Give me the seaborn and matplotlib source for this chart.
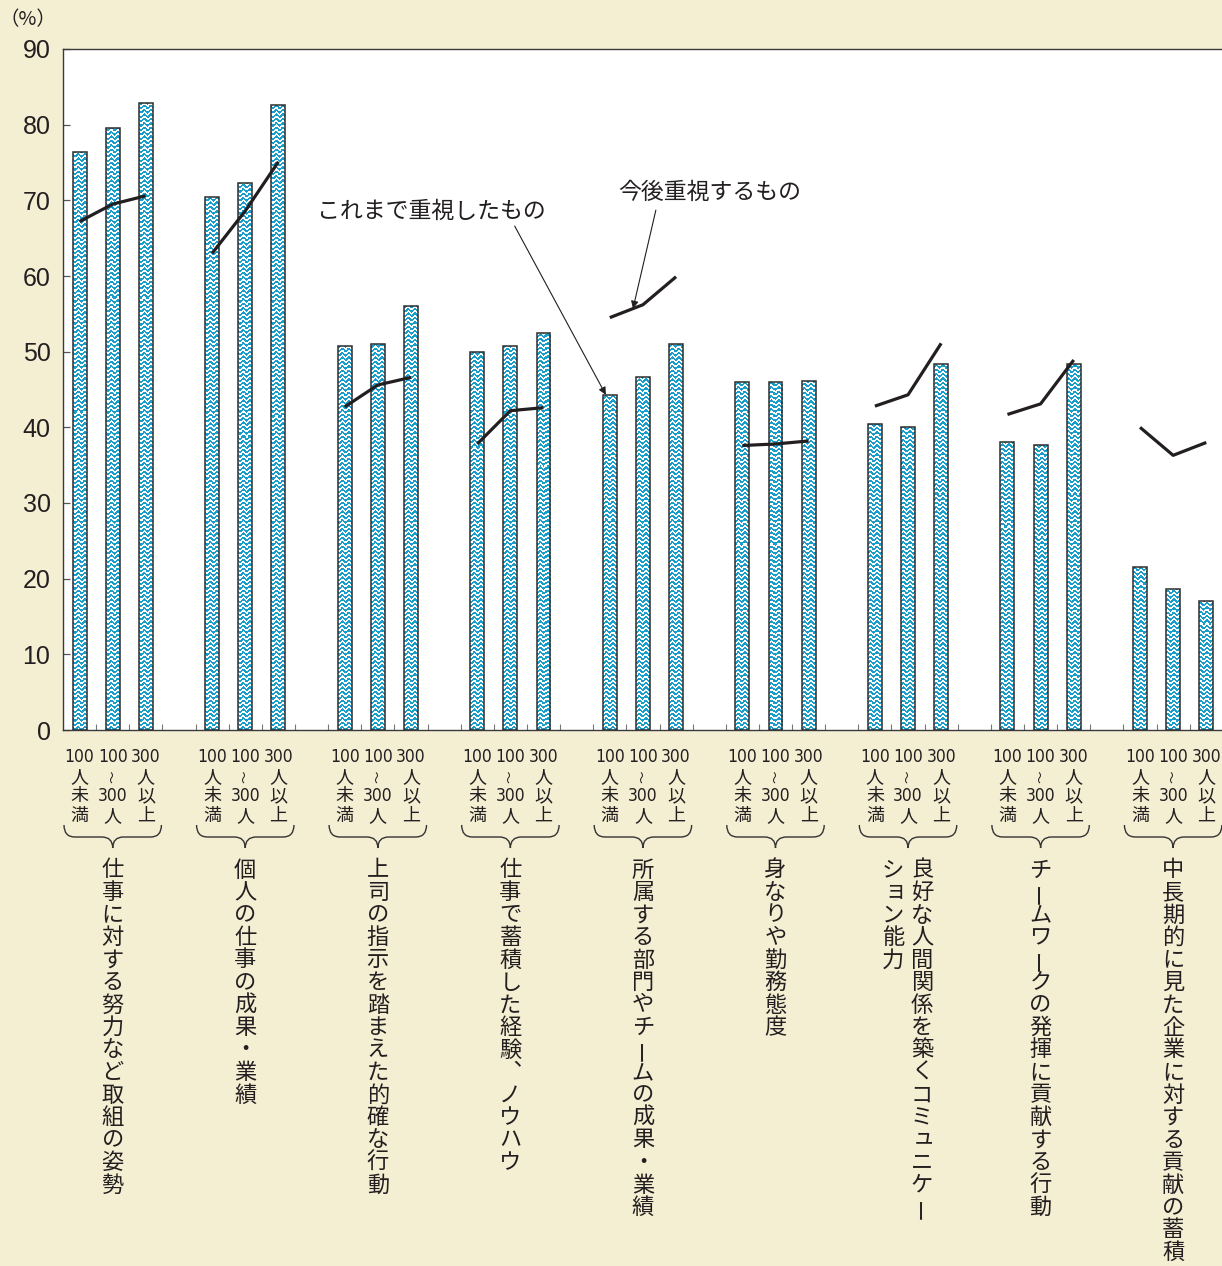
import numpy as np
import pandas as pd
import matplotlib
matplotlib.use("Agg")
import matplotlib.pyplot as plt
import matplotlib.transforms as mtransforms
from matplotlib.path import Path
from matplotlib.patches import PathPatch
from matplotlib import font_manager as fm
from matplotlib.ft2font import FT2Font
import seaborn as sns

# ---- data -------------------------------------------------------------
groups = [
    "仕事に対する努力など取組の姿勢",
    "個人の仕事の成果・業績",
    "上司の指示を踏まえた的確な行動",
    "仕事で蓄積した経験、ノウハウ",
    "所属する部門やチームの成果・業績",
    "身なりや勤務態度",
    "良好な人間関係を築くコミュニケーション能力",
    "チームワークの発揮に貢献する行動",
    "中長期的に見た企業に対する貢献の蓄積",
]
size_labels = [["100", "人", "未", "満"],
               ["100", "〜", "300", "人"],
               ["300", "人", "以", "上"]]

# これまで重視したもの (bars), by firm size
past_lt100 = [76.4, 70.5, 50.7, 50.0, 44.3, 46.0, 40.4, 38.1, 21.6]
past_100_300 = [79.6, 72.3, 51.0, 50.7, 46.6, 46.0, 40.1, 37.7, 18.6]
past_300up = [82.9, 82.6, 56.0, 52.5, 51.0, 46.1, 48.4, 48.4, 17.1]

# 今後重視するもの (lines), by firm size
future_lt100 = [67.2, 63.0, 42.7, 37.8, 54.5, 37.6, 42.8, 41.7, 40.0]
future_100_300 = [69.5, 68.6, 45.6, 42.2, 56.2, 37.8, 44.3, 43.1, 36.3]
future_300up = [70.6, 75.1, 46.6, 42.6, 59.9, 38.2, 51.1, 48.9, 38.0]

label_past = "これまで重視したもの"
label_future = "今後重視するもの"

# ---- tidy tables ---------------------------------------------------------
rows_p, rows_f = [], []
for g in range(len(groups)):
    for j, (p, f) in enumerate(zip((past_lt100, past_100_300, past_300up),
                                   (future_lt100, future_100_300, future_300up))):
        slot = 4 * g + j
        rows_p.append(dict(slot=slot, value=p[g], group=g))
        rows_f.append(dict(slot=slot, value=f[g], group=g))
df_past = pd.DataFrame(rows_p)
df_future = pd.DataFrame(rows_f)

# ---- style ---------------------------------------------------------------
BG = "#F4EED3"
TXT = "#231F20"
EDGE = "#2E2E2E"
CYAN = np.array([0.10, 0.62, 0.80])
JP = ["Noto Sans CJK JP", "DejaVu Sans"]
NUM = ["Liberation Sans", "DejaVu Sans"]


def narrow_digits_font():
    """Pick a condensed face for the small size labels if one is installed."""
    for fam in ("Liberation Sans Narrow", "DejaVu Sans"):
        try:
            path = fm.findfont(fm.FontProperties(family=fam, stretch="condensed"),
                               fallback_to_default=False)
        except Exception:
            continue
        if "Narrow" in path or "Condensed" in path:
            return fm.FontProperties(fname=path), 12.5
    return fm.FontProperties(family="Liberation Sans"), 10


def has_glyph(family, ch):
    try:
        path = fm.findfont(fm.FontProperties(family=family),
                           fallback_to_default=False)
        return ord(ch) in FT2Font(path).get_charmap()
    except Exception:
        return False


NARROW_PROP, NARROW_SIZE = narrow_digits_font()
# vertical-writing comma sits in the upper right of its cell by design
VCOMMA = "︑" if has_glyph("Noto Sans CJK JP", "︑") else None

sns.set_theme(style="white")
plt.rcParams["font.family"] = JP
plt.rcParams["text.color"] = TXT

W, H = 1222, 1266
fig = plt.figure(figsize=(W / 100, H / 100), dpi=100, facecolor=BG)
ax = fig.add_axes([63 / W, (H - 730) / H, 1193 / W, 681 / H])
ax.set_facecolor("white")

sns.barplot(data=df_past, x="slot", y="value", native_scale=True, width=0.42,
            color="white", edgecolor=EDGE, linewidth=1.1, errorbar=None, ax=ax)
bars = list(ax.patches)

sns.lineplot(data=df_future, x="slot", y="value", units="group", estimator=None,
             color=TXT, lw=2.3, legend=False, ax=ax, zorder=4,
             solid_capstyle="butt")

XMIN, XMAX, YMIN, YMAX = -0.5, 35.5, 0, 90

# wavy fill texture for the bars
th, tw = 681, 1193
yy, xx = np.mgrid[0:th, 0:tw]
wave = ((yy + 1.2 * np.sin(2 * np.pi * xx / 6.6)) % 4.4) < 2.3
tex = np.ones((th, tw, 3))
tex[wave] = CYAN
for b in bars:
    b.set_facecolor("none")
    b.set_zorder(3)
    im = ax.imshow(tex, extent=(XMIN, XMAX, YMIN, YMAX), origin="upper",
                   interpolation="nearest", aspect="auto", zorder=2)
    im.set_clip_path(b)

ax.set_xlim(XMIN, XMAX)
ax.set_ylim(YMIN, YMAX)
ax.set_xlabel("")
ax.set_ylabel("")
ax.set_yticks(range(0, 91, 10))
ax.set_xticks(np.arange(0.5, 35.0, 1.0))
ax.set_xticklabels([])
ax.tick_params(axis="y", direction="in", length=5, width=0.9, color="#555",
               labelsize=18, pad=9, labelcolor=TXT, left=True)
ax.tick_params(axis="x", direction="in", length=4.5, width=0.8, color="#777",
               bottom=True)
for lbl in ax.get_yticklabels():
    lbl.set_fontfamily(NUM)
for s in ("left", "top", "bottom"):
    ax.spines[s].set_color("#3A3A3A")
    ax.spines[s].set_linewidth(1.0)
ax.spines["right"].set_visible(False)

fig.text(28 / W, 1 - 20 / H, "（%）", ha="center", va="center",
         fontsize=14, family=JP, color=TXT)


def px_of_slot(s):
    return ax.transData.transform((s, 0))[0]


def put(xpx, ypx, s, size, family=None, rot=0, prop=None):
    kw = dict(fontproperties=prop) if prop is not None else dict(family=family)
    t = fig.text(xpx / W, 1 - ypx / H, s, ha="center", va="center",
                 rotation=rot, color=TXT, **kw)
    t.set_fontsize(size)
    return t


def vertical(xpx, ypx0, text, pitch, size):
    for i, ch in enumerate(text):
        y = ypx0 + i * pitch
        ox, oy, rot = 0, 0, 0
        if ch == "ー":
            rot = 90
        elif ch == "、":
            if VCOMMA:
                ch = VCOMMA
            else:
                ox, oy = 10, -2
        elif ch in "ョュャッ":
            ox, oy = 2, -2
        put(xpx + ox, y + oy, ch, size, JP, rot)


# firm-size labels under each bar
sub_y = [757, 777, 796, 816]
for g in range(len(groups)):
    for j in range(3):
        xpx = px_of_slot(4 * g + j)
        for tok, y in zip(size_labels[j], sub_y):
            if tok.isdigit():
                put(xpx, y, tok, NARROW_SIZE, prop=NARROW_PROP)
            elif tok == "〜":
                put(xpx, y, tok, 9, JP, rot=90)
            else:
                put(xpx, y, tok, 13, JP)

# braces
blend = mtransforms.blended_transform_factory(ax.transData, fig.transFigure)
yt, ym, yb = 1 - 825 / H, 1 - 837 / H, 1 - 848 / H
for g in range(len(groups)):
    l, m, r = 4 * g - 0.47, 4 * g + 1, 4 * g + 2 + 0.47
    d = 0.33
    verts = [(l, yt), (l, ym), (l + d, ym), (m - d, ym), (m, ym), (m, yb),
             (m, ym), (m + d, ym), (r - d, ym), (r, ym), (r, yt)]
    codes = [Path.MOVETO, Path.CURVE3, Path.CURVE3, Path.LINETO,
             Path.CURVE3, Path.CURVE3, Path.CURVE3, Path.CURVE3,
             Path.LINETO, Path.CURVE3, Path.CURVE3]
    fig.patches.append(PathPatch(Path(verts, codes), transform=blend,
                                 fill=False, ec="#333", lw=1.0,
                                 figure=fig))

# category names, written vertically
for g, name in enumerate(groups):
    xc = px_of_slot(4 * g + 1)
    if g == 6:
        vertical(xc + 14, 870, "良好な人間関係を築くコミュニケー", 22.5, 16)
        vertical(xc - 15, 870, "ション能力", 22.5, 16)
    else:
        vertical(xc, 870, name, 22.5, 16)

# series callouts
ax.text(10.63, 68.6, label_past, ha="center", va="center", fontsize=16.5,
        family=JP, color=TXT, clip_on=False)
ax.annotate("", xy=(16 - 0.12, past_lt100[4]), xytext=(13.13, 66.6),
            arrowprops=dict(arrowstyle="-|>", lw=0.8, color=TXT,
                            mutation_scale=11, shrinkA=0, shrinkB=0))
ax.text(19.02, 71.0, label_future, ha="center", va="center", fontsize=16.5,
        family=JP, color=TXT, clip_on=False)
tip_y = np.interp(16.7, [16, 17], [future_lt100[4], future_100_300[4]])
ax.annotate("", xy=(16.7, tip_y), xytext=(17.39, 68.7),
            arrowprops=dict(arrowstyle="-|>", lw=0.8, color=TXT,
                            mutation_scale=11, shrinkA=0, shrinkB=0))

fig.savefig("out.png", dpi=100, facecolor=BG)
